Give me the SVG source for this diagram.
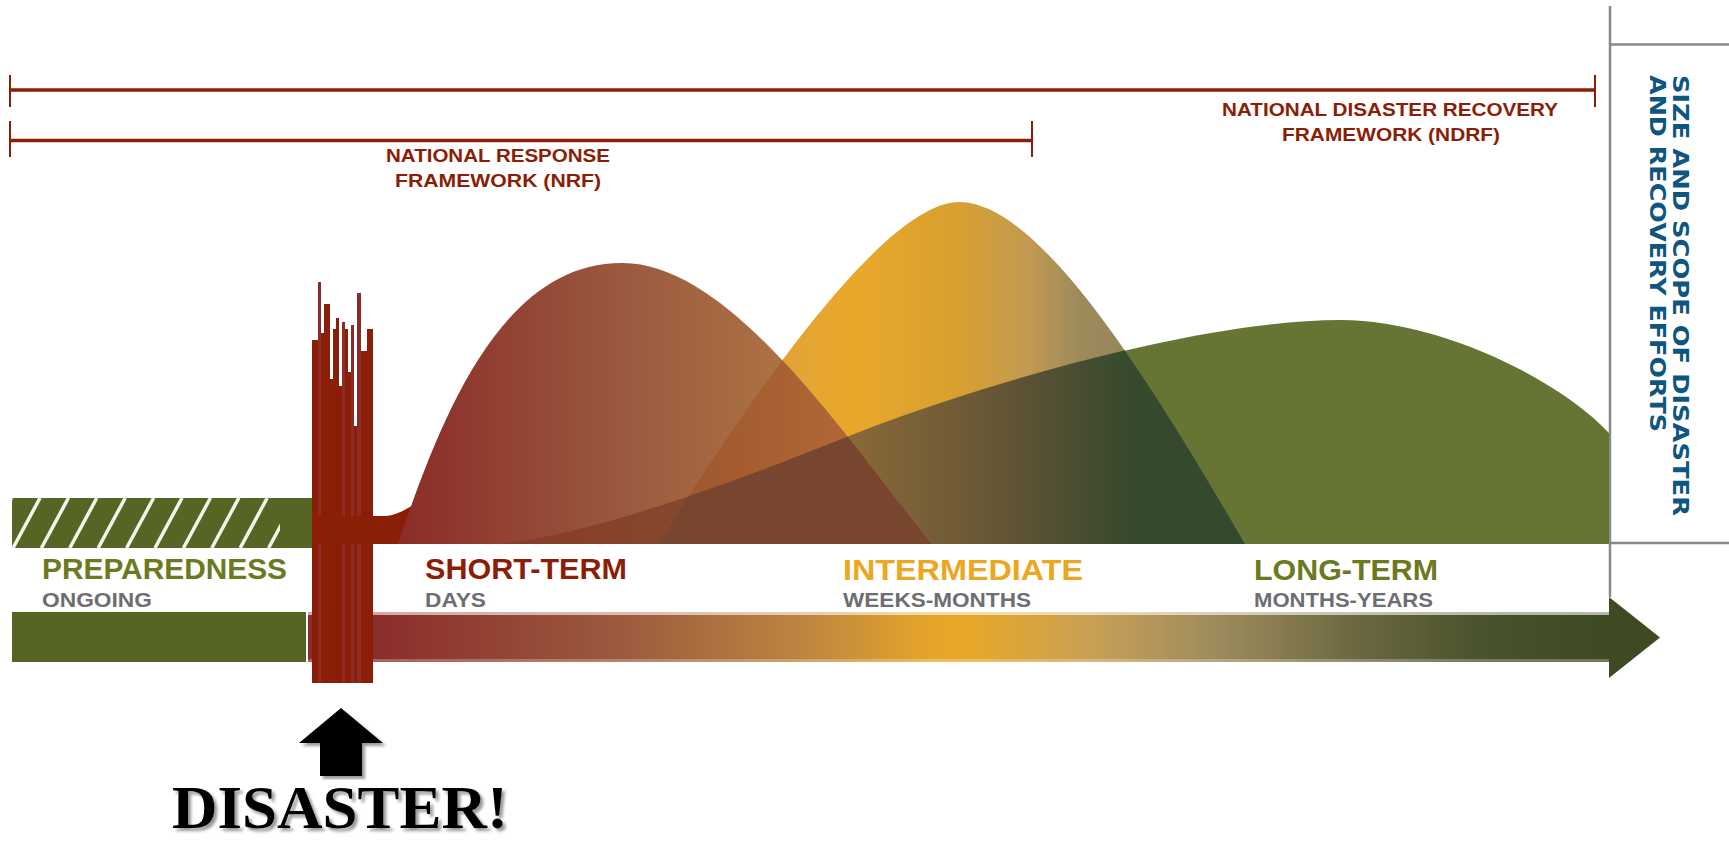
<svg xmlns="http://www.w3.org/2000/svg" width="1729" height="843" viewBox="0 0 1729 843">
<style>
.frm{font-family:"Liberation Sans",Arial,sans-serif;font-weight:bold;font-size:19px;fill:#8b1e06;text-anchor:middle}
.lab{font-family:"Liberation Sans",Arial,sans-serif;font-weight:bold;font-size:30px}
.sub{font-family:"Liberation Sans",Arial,sans-serif;font-weight:bold;font-size:21px;fill:#6d6e72}
.vert{font-family:"DejaVu Sans","Liberation Sans",sans-serif;font-weight:bold;font-size:21px;fill:#0e5580}
.br{stroke:#8b1e06;fill:none}
.gray{stroke:#88898d;stroke-width:2.5;fill:none}
.hatch{stroke:#f4f4ea;stroke-width:3.5}
.spk{fill:#8b1e06}
.spl{fill:#8c2b27}
</style>
<defs>
<linearGradient id="gShort" gradientUnits="userSpaceOnUse" x1="398" y1="0" x2="932" y2="0">
<stop offset="0" stop-color="#8a2c28"/><stop offset="0.45" stop-color="#9c5c40"/><stop offset="0.75" stop-color="#ae7444"/><stop offset="1" stop-color="#c28a4a"/>
</linearGradient>
<linearGradient id="gInter" gradientUnits="userSpaceOnUse" x1="658" y1="0" x2="1245" y2="0">
<stop offset="0.07" stop-color="#dd9e48"/><stop offset="0.33" stop-color="#e8a82a"/><stop offset="0.51" stop-color="#d9a030"/><stop offset="0.63" stop-color="#c29a52"/><stop offset="0.72" stop-color="#9c8a5a"/><stop offset="1" stop-color="#8a7e58"/>
</linearGradient>
<linearGradient id="gIL" gradientUnits="userSpaceOnUse" x1="844" y1="0" x2="1245" y2="0">
<stop offset="0" stop-color="#8a6a38"/><stop offset="0.3" stop-color="#6e5a36"/><stop offset="0.5" stop-color="#565034"/><stop offset="0.7" stop-color="#374a2d"/><stop offset="1" stop-color="#324a2c"/>
</linearGradient>
<linearGradient id="gSL" gradientUnits="userSpaceOnUse" x1="500" y1="0" x2="700" y2="0">
<stop offset="0" stop-color="#8b3a28"/><stop offset="1" stop-color="#84492e"/>
</linearGradient>
<linearGradient id="gSI" gradientUnits="userSpaceOnUse" x1="700" y1="0" x2="900" y2="0">
<stop offset="0" stop-color="#a0582f"/><stop offset="1" stop-color="#b86c36"/>
</linearGradient>
<linearGradient id="gBar" gradientUnits="userSpaceOnUse" x1="373" y1="0" x2="1610" y2="0">
<stop offset="0" stop-color="#8a2d2b"/><stop offset="0.2" stop-color="#9c5a3e"/><stop offset="0.35" stop-color="#be8640"/><stop offset="0.45" stop-color="#e5a52a"/><stop offset="0.48" stop-color="#e8a828"/><stop offset="0.58" stop-color="#c9a055"/><stop offset="0.68" stop-color="#9e8c5c"/><stop offset="0.8" stop-color="#6a6640"/><stop offset="0.9" stop-color="#48522b"/><stop offset="1" stop-color="#3e4a22"/>
</linearGradient>
<clipPath id="cShort"><path d="M 398,544 C 440,420 500,262 623,263 C 730,264 840,430 932,544 Z"/></clipPath>
<clipPath id="cInter"><path d="M 658,544 C 730,430 880,200 960,202 C 1040,203 1150,380 1245,544 Z"/></clipPath>
<clipPath id="cHatch"><rect x="12" y="498" width="268" height="50"/></clipPath>
<filter id="shadow" x="-5%" y="-5%" width="110%" height="110%">
<feDropShadow dx="3" dy="3" stdDeviation="1.5" flood-color="#777" flood-opacity="0.75"/>
</filter>
</defs>
<rect width="1729" height="843" fill="#ffffff"/>

<g id="frame">
<line class="gray" x1="1610" y1="6" x2="1610" y2="597"/>
<line class="gray" x1="1610" y1="44.5" x2="1729" y2="44.5"/>
<line class="gray" x1="1610" y1="543" x2="1729" y2="543"/>
</g>

<g id="ndrf">
<line class="br" stroke-width="3.5" x1="10" y1="90" x2="1595" y2="90"/>
<line class="br" stroke-width="2" x1="10" y1="75" x2="10" y2="107"/>
<line class="br" stroke-width="2" x1="1595" y1="75" x2="1595" y2="107"/>
<text class="frm" x="1390" y="116" textLength="336" lengthAdjust="spacingAndGlyphs">NATIONAL DISASTER RECOVERY</text>
<text class="frm" x="1391" y="141" textLength="218" lengthAdjust="spacingAndGlyphs">FRAMEWORK (NDRF)</text>
</g>

<g id="nrf">
<line class="br" stroke-width="3.5" x1="10" y1="140.5" x2="1032" y2="140.5"/>
<line class="br" stroke-width="2" x1="10" y1="121" x2="10" y2="157"/>
<line class="br" stroke-width="2" x1="1032" y1="121" x2="1032" y2="157"/>
<text class="frm" x="498" y="162" textLength="224" lengthAdjust="spacingAndGlyphs">NATIONAL RESPONSE</text>
<text class="frm" x="498" y="187" textLength="206" lengthAdjust="spacingAndGlyphs">FRAMEWORK (NRF)</text>
</g>

<g id="axis-label">
<text class="vert" transform="translate(1673,75) rotate(90)" textLength="441" lengthAdjust="spacingAndGlyphs">SIZE AND SCOPE OF DISASTER</text>
<text class="vert" transform="translate(1650,75) rotate(90)" textLength="357" lengthAdjust="spacingAndGlyphs">AND RECOVERY EFFORTS</text>
</g>

<g id="curves">
<path d="M 500,544 C 580,536 710,492 844,438 C 974,386 1200,320 1340,320 C 1440,320 1560,380 1609,433 L 1609,544 Z" fill="#677534"/>
<path d="M 658,544 C 730,430 880,200 960,202 C 1040,203 1150,380 1245,544 Z" fill="url(#gInter)"/>
<path d="M 500,544 C 580,536 710,492 844,438 C 974,386 1200,320 1340,320 C 1440,320 1560,380 1609,433 L 1609,544 Z" fill="url(#gIL)" clip-path="url(#cInter)"/>
<path d="M 370,516 L 386,516 C 398,515 410,508 428,494 L 428,544 L 370,544 Z" fill="#8b1e06"/>
<path d="M 398,544 C 440,420 500,262 623,263 C 730,264 840,430 932,544 Z" fill="url(#gShort)"/>
<path d="M 500,544 C 580,536 710,492 844,438 C 974,386 1200,320 1340,320 C 1440,320 1560,380 1609,433 L 1609,544 Z" fill="url(#gSL)" clip-path="url(#cShort)"/>
<path d="M 658,544 C 730,430 880,200 960,202 C 1040,203 1150,380 1245,544 Z" fill="url(#gSI)" clip-path="url(#cShort)"/>
<g clip-path="url(#cShort)">
<path d="M 500,544 C 580,536 710,492 844,438 C 974,386 1200,320 1340,320 C 1440,320 1560,380 1609,433 L 1609,544 Z" fill="#78452f" clip-path="url(#cInter)"/>
</g>
</g>

<g id="preparedness-bar">
<rect x="12" y="498" width="300" height="50" fill="#566523"/>
<g clip-path="url(#cHatch)">
<line class="hatch" x1="11.6" y1="498" x2="-15.4" y2="548"/>
<line class="hatch" x1="40" y1="498" x2="13" y2="548"/>
<line class="hatch" x1="68.4" y1="498" x2="41.4" y2="548"/>
<line class="hatch" x1="96.8" y1="498" x2="69.8" y2="548"/>
<line class="hatch" x1="125.2" y1="498" x2="98.2" y2="548"/>
<line class="hatch" x1="153.6" y1="498" x2="126.6" y2="548"/>
<line class="hatch" x1="182" y1="498" x2="155" y2="548"/>
<line class="hatch" x1="210.4" y1="498" x2="183.4" y2="548"/>
<line class="hatch" x1="238.8" y1="498" x2="211.8" y2="548"/>
<line class="hatch" x1="267.2" y1="498" x2="240.2" y2="548"/>
<line class="hatch" x1="295.6" y1="498" x2="268.6" y2="548"/>
</g>
<rect x="12" y="612" width="294" height="50" fill="#566523"/>
</g>

<g id="timeline-arrow">
<rect x="308" y="612" width="1302" height="50" fill="url(#gBar)"/>
<rect x="308" y="612" width="1302" height="3" fill="#ffffff" fill-opacity="0.6"/>
<rect x="308" y="659" width="1302" height="3" fill="#ffffff" fill-opacity="0.25"/>
<polygon points="1609,597 1660,637.5 1609,678" fill="#3e4a22"/>
</g>

<g id="phase-labels">
<text class="lab" x="42" y="579" fill="#6b7a1f" textLength="245" lengthAdjust="spacingAndGlyphs">PREPAREDNESS</text>
<text class="sub" x="42" y="607" textLength="110" lengthAdjust="spacingAndGlyphs">ONGOING</text>
<text class="lab" x="425" y="579" fill="#8b1e06" textLength="202" lengthAdjust="spacingAndGlyphs">SHORT-TERM</text>
<text class="sub" x="425" y="607" textLength="61" lengthAdjust="spacingAndGlyphs">DAYS</text>
<text class="lab" x="843" y="580" fill="#eaa720" textLength="240" lengthAdjust="spacingAndGlyphs">INTERMEDIATE</text>
<text class="sub" x="843" y="607" textLength="188" lengthAdjust="spacingAndGlyphs">WEEKS-MONTHS</text>
<text class="lab" x="1254" y="580" fill="#6b7a1f" textLength="184" lengthAdjust="spacingAndGlyphs">LONG-TERM</text>
<text class="sub" x="1254" y="607" textLength="179" lengthAdjust="spacingAndGlyphs">MONTHS-YEARS</text>
</g>

<g id="disaster-bar">
<rect class="spk" x="312" y="340" width="6" height="343"/>
<rect class="spl" x="318" y="282" width="3" height="401"/>
<rect class="spk" x="321" y="333" width="3" height="350"/>
<rect class="spk" x="324" y="304" width="6" height="379"/>
<rect class="spk" x="330" y="379" width="3" height="304"/>
<rect class="spk" x="333" y="329" width="3" height="354"/>
<rect class="spk" x="336" y="318" width="3" height="365"/>
<rect class="spk" x="339" y="386" width="3" height="297"/>
<rect class="spl" x="342" y="322" width="3" height="361"/>
<rect class="spk" x="345" y="329" width="3" height="354"/>
<rect class="spk" x="348" y="372" width="3" height="311"/>
<rect class="spl" x="351" y="325" width="3" height="358"/>
<rect class="spk" x="354" y="426" width="3" height="257"/>
<rect class="spl" x="357" y="293" width="4" height="390"/>
<rect class="spk" x="361" y="351" width="6" height="332"/>
<rect class="spk" x="367" y="329" width="6" height="354"/>
<rect class="spk" x="312" y="516" width="61" height="28"/>
</g>

<g id="disaster">
<polygon points="299,743 341,708 383,743 362,743 362,776 320,776 320,743" fill="#000000" filter="url(#shadow)"/>
<text x="172" y="828" font-family="'Liberation Serif','Times New Roman',serif" font-weight="bold" font-size="61" fill="#000000" textLength="336" lengthAdjust="spacingAndGlyphs" filter="url(#shadow)">DISASTER!</text>
</g>
</svg>
